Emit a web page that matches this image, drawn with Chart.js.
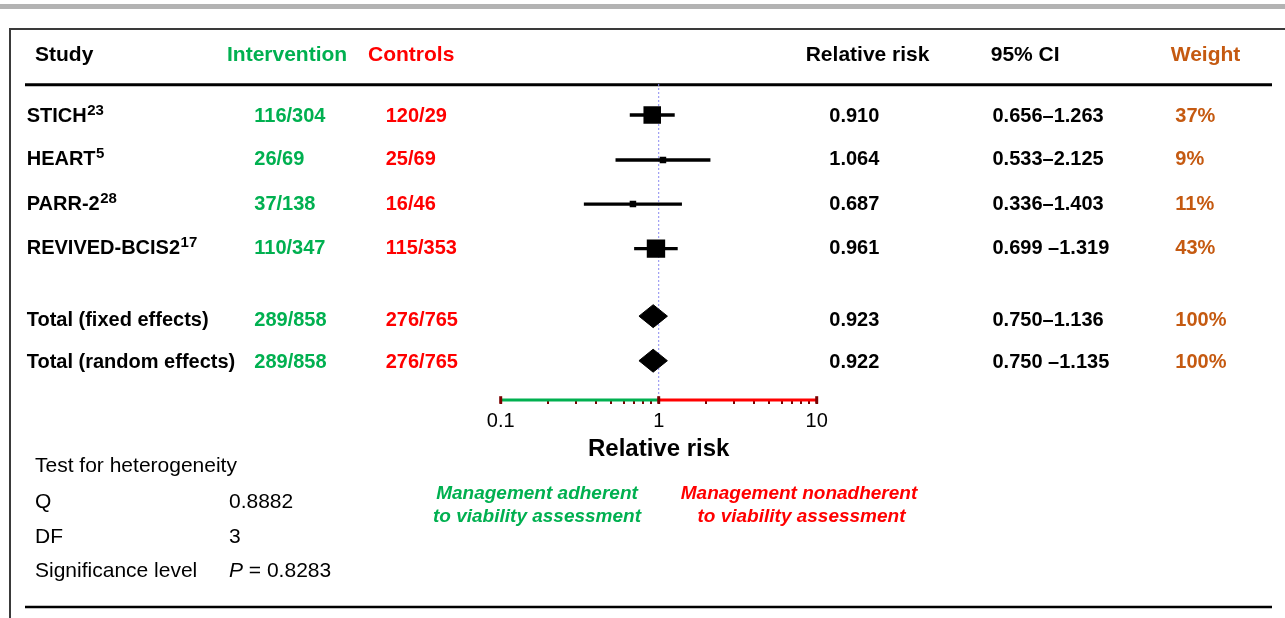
<!DOCTYPE html>
<html><head><meta charset="utf-8">
<script src="https://cdn.jsdelivr.net/npm/chart.js@4.4.1/dist/chart.umd.min.js"></script>
<style>html,body{margin:0;padding:0;background:#fff;overflow:hidden}canvas{display:block}</style>
</head><body>
<canvas id="c" width="1285" height="618"></canvas>
<script>
// ---------- data ----------
const headers = ['Study', 'Intervention', 'Controls', 'Relative risk', '95% CI', 'Weight'];
const studyNames = ['STICH', 'HEART', 'PARR-2', 'REVIVED-BCIS2', 'Total (fixed effects)', 'Total (random effects)'];
const studyRefs = ['23', '5', '28', '17', '', ''];
const intervention = ['116/304', '26/69', '37/138', '110/347', '289/858', '289/858'];
const controls = ['120/29', '25/69', '16/46', '115/353', '276/765', '276/765'];
const relRisk = [0.910, 1.064, 0.687, 0.961, 0.923, 0.922];
const ciLow = [0.656, 0.533, 0.336, 0.699, 0.750, 0.750];
const ciHigh = [1.263, 2.125, 1.403, 1.319, 1.136, 1.135];
const ciText = ['0.656–1.263', '0.533–2.125', '0.336–1.403', '0.699 –1.319', '0.750–1.136', '0.750 –1.135'];
const weights = [37, 9, 11, 43, 100, 100];
const isPooled = [false, false, false, false, true, true];
const rowY = [1, 2, 2.98, 3.97, 5.47, 6.46];
const xTickValues = [0.1, 0.2, 0.3, 0.4, 0.5, 0.6, 0.7, 0.8, 0.9, 1, 2, 3, 4, 5, 6, 7, 8, 9, 10];
const xLabelValues = [0.1, 1, 10];
const xTickLabels = ['0.1', '1', '10'];
const xTitle = 'Relative risk';
const hetTitle = 'Test for heterogeneity';
const hetLabels = ['Q', 'DF', 'Significance level'];
const hetValues = ['0.8882', '3', '0.8283'];
const favourLeft = ['Management adherent', 'to viability assessment'];
const favourRight = ['Management nonadherent', 'to viability assessment'];

// ---------- styles ----------
const FONT = '"Liberation Sans", Arial, Helvetica, sans-serif';
const GREEN = '#00b050', RED = '#ff0000', ORANGE = '#c55a11', CAP = '#7a0000';
const boxRadius = [12.4, 4.6, 4.6, 13.0];
const diamondHalf = 0.255;
const yMin = 0.3111, yMax = 7.3333;

const datasets = [];
// reference line at RR = 1
datasets.push({data: [{x: 1, y: yMin}, {x: 1, y: yMax}], borderColor: '#8a8af0', borderWidth: 1,
  borderDash: [2, 2], pointRadius: 0, order: 20});
// confidence interval lines of the studies
relRisk.forEach((v, i) => {
  if (isPooled[i]) return;
  datasets.push({data: [{x: ciLow[i], y: rowY[i]}, {x: ciHigh[i], y: rowY[i]}], borderColor: '#000',
    borderWidth: 3.4, pointRadius: 0, order: 10});
});
// study boxes
datasets.push({data: relRisk.map((v, i) => ({x: v, y: rowY[i]})).filter((p, i) => !isPooled[i]),
  showLine: false, pointStyle: 'rect', pointRadius: boxRadius, pointBackgroundColor: '#000',
  pointBorderWidth: 0, pointBorderColor: '#000', order: 2});
// pooled diamonds
relRisk.forEach((v, i) => {
  if (!isPooled[i]) return;
  datasets.push({data: [{x: ciLow[i], y: rowY[i]}, {x: v, y: rowY[i] - diamondHalf}, {x: ciHigh[i], y: rowY[i]},
    {x: v, y: rowY[i] + diamondHalf}, {x: ciLow[i], y: rowY[i]}],
    fill: 'shape', backgroundColor: '#000', borderColor: '#000', borderWidth: 1, pointRadius: 0, order: 2});
});
// coloured axis line
datasets.push({data: [{x: xLabelValues[0], y: yMax}, {x: xLabelValues[1], y: yMax}], borderColor: GREEN,
  borderWidth: 3, pointRadius: 0, clip: false, order: 5});
datasets.push({data: [{x: xLabelValues[1], y: yMax}, {x: xLabelValues[2], y: yMax}], borderColor: RED,
  borderWidth: 3, pointRadius: 0, clip: false, order: 5});
// end caps
datasets.push({data: xLabelValues.map(v => ({x: v, y: yMax})), showLine: false, pointStyle: 'line',
  pointRotation: 90, pointRadius: 3.8, pointBorderColor: CAP, pointBorderWidth: 3, clip: false, order: 1});

const decor = {
  id: 'decor',
  beforeDraw(chart) {
    const ctx = chart.ctx;
    ctx.save();
    ctx.fillStyle = '#fff'; ctx.fillRect(0, 0, 1285, 618);
    ctx.fillStyle = '#b3b3b3'; ctx.fillRect(0, 4, 1285, 5);
    ctx.strokeStyle = '#3a3a3a'; ctx.lineWidth = 2;
    ctx.beginPath(); ctx.moveTo(10, 29); ctx.lineTo(1285, 29); ctx.moveTo(10, 28); ctx.lineTo(10, 618); ctx.stroke();
    ctx.strokeStyle = '#000'; ctx.lineWidth = 3;
    ctx.beginPath(); ctx.moveTo(25, 84.7); ctx.lineTo(1272, 84.7); ctx.stroke();
    ctx.lineWidth = 2.5;
    ctx.beginPath(); ctx.moveTo(25, 607); ctx.lineTo(1272, 607); ctx.stroke();
    ctx.restore();
  },
  afterDraw(chart) {
    const ctx = chart.ctx;
    ctx.save();
    ctx.textBaseline = 'middle';
    const txt = (s, x, y, font, color, align) => {
      ctx.font = font; ctx.fillStyle = color; ctx.textAlign = align || 'left'; ctx.fillText(s, x, y);
      return ctx.measureText(s).width;
    };
    const hb = 'bold 21px ' + FONT, rb = 'bold 20px ' + FONT;
    const hx = [35, 227, 368, 805.7, 990.7, 1170.7];
    const hc = ['#000', GREEN, RED, '#000', '#000', ORANGE];
    headers.forEach((h, i) => txt(h, hx[i], 55, hb, hc[i]));
    const textY = [116, 159.5, 204.5, 248.5, 320, 362.5];
    studyNames.forEach((n, i) => {
      const y = textY[i];
      const w = txt(n, 26.7, y, rb, '#000');
      if (studyRefs[i]) txt(studyRefs[i], 26.7 + w + 0.5, y - 5.5, 'bold 15px ' + FONT, '#000');
      txt(intervention[i], 254.3, y, rb, GREEN);
      txt(controls[i], 385.7, y, rb, RED);
      txt(relRisk[i].toFixed(3), 829.3, y, rb, '#000');
      txt(ciText[i], 992.5, y, rb, '#000');
      txt(weights[i] + '%', 1175.3, y, rb, ORANGE);
    });
    const rf = '21px ' + FONT;
    txt(hetTitle, 35, 466.5, rf, '#000');
    const hy = [502, 537, 571];
    hetLabels.forEach((l, i) => txt(l, 35, hy[i], rf, '#000'));
    txt(hetValues[0], 229, hy[0], rf, '#000');
    txt(hetValues[1], 229, hy[1], rf, '#000');
    const pw = txt('P', 229, hy[2], 'italic 21px ' + FONT, '#000');
    txt(' = ' + hetValues[2], 229 + pw, hy[2], rf, '#000');
    const lf = 'italic bold 19px ' + FONT;
    txt(favourLeft[0], 537, 494, lf, GREEN, 'center');
    txt(favourLeft[1], 537, 517, lf, GREEN, 'center');
    txt(favourRight[0], 799, 494, lf, RED, 'center');
    txt(favourRight[1], 801.5, 517, lf, RED, 'center');
    ctx.restore();
  }
};

new Chart(document.getElementById('c'), {
  type: 'line',
  data: {datasets},
  options: {
    responsive: false, animation: false, events: [],
    layout: {padding: {top: 84, left: 500.7, right: 468.3, bottom: 0}},
    plugins: {legend: {display: false}, tooltip: {enabled: false}},
    scales: {
      x: {
        type: 'logarithmic', min: 0.1, max: 10, position: 'bottom',
        border: {display: false},
        grid: {drawOnChartArea: false, drawTicks: true, tickLength: 4, color: CAP, lineWidth: 2},
        ticks: {autoSkip: false, maxRotation: 0, minRotation: 0, padding: 5, color: '#000',
          font: {family: FONT, size: 20},
          callback: (v) => { const k = xLabelValues.indexOf(v); return k >= 0 ? xTickLabels[k] : ''; }},
        afterBuildTicks: (s) => { s.ticks = xTickValues.map(v => ({value: v})); },
        afterFit: (s) => { s.height = 218; },
        title: {display: true, text: xTitle, color: '#000', font: {family: FONT, size: 24, weight: 'bold'},
          padding: {top: 0, bottom: 154.5}}
      },
      y: {type: 'linear', reverse: true, min: yMin, max: yMax, display: false}
    }
  },
  plugins: [decor]
});
</script>
</body></html>
